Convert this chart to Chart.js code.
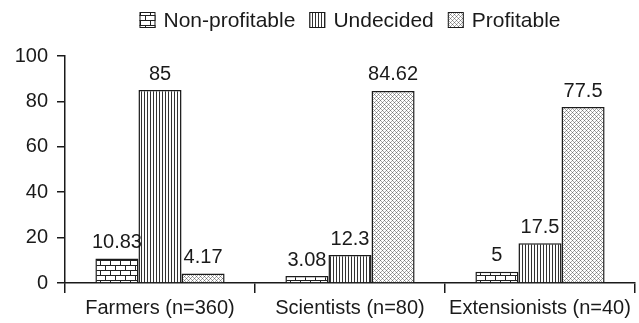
<!DOCTYPE html>
<html>
<head>
<meta charset="utf-8">
<script src="https://cdn.jsdelivr.net/npm/chart.js@4/dist/chart.umd.min.js"></script>
<style>
  html, body { margin: 0; padding: 0; background: #fff; }
  #wrap { width: 639px; height: 323px; }
</style>
</head>
<body>
<div id="wrap"><canvas id="chart" width="639" height="323"></canvas></div>
<script>
// ---- data ----
const categories = ['Farmers (n=360)', 'Scientists (n=80)', 'Extensionists (n=40)'];
const seriesNames = ['Non-profitable', 'Undecided', 'Profitable'];
const nonProfitable = [10.83, 3.08, 5];
const undecided = [85, 12.3, 17.5];
const profitable = [4.17, 84.62, 77.5];
const yTicks = [0, 20, 40, 60, 80, 100];

const FONT = '"Liberation Sans", Arial, sans-serif';
const INK = '#1a1a1a';

// ---- fill patterns ----
function makePattern(w, h, draw) {
    const c = document.createElement('canvas');
    c.width = w; c.height = h;
    const g = c.getContext('2d');
    g.fillStyle = '#fff';
    g.fillRect(0, 0, w, h);
    draw(g);
    return g.createPattern(c, 'repeat');
}

// bricks
const brickPattern = makePattern(10, 10, g => {
    g.fillStyle = '#222';
    g.fillRect(0, 0, 10, 1);
    g.fillRect(0, 5, 10, 1);
    g.fillRect(0, 0, 1, 5);
    g.fillRect(5, 5, 1, 5);
});

// vertical lines
const linePattern = makePattern(3, 3, g => {
    g.fillStyle = '#333';
    g.fillRect(0, 0, 1, 3);
});

// fine crosshatch
const hatchPattern = makePattern(4, 4, g => {
    g.fillStyle = '#777';
    g.fillRect(0, 0, 1, 1);
    g.fillRect(2, 2, 1, 1);
    g.fillStyle = '#aaa';
    g.fillRect(1, 1, 1, 1);
    g.fillRect(3, 3, 1, 1);
    g.fillRect(1, 3, 1, 1);
    g.fillRect(3, 1, 1, 1);
});

const patterns = [brickPattern, linePattern, hatchPattern];

// ---- value labels above the bars ----
const valueLabelPlugin = {
    id: 'valueLabels',
    afterDatasetsDraw(chart) {
        const ctx = chart.ctx;
        ctx.save();
        ctx.font = '20px ' + FONT;
        ctx.fillStyle = INK;
        ctx.textAlign = 'center';
        ctx.textBaseline = 'bottom';
        chart.data.datasets.forEach((ds, i) => {
            chart.getDatasetMeta(i).data.forEach((bar, j) => {
                ctx.fillText(String(ds.data[j]), bar.x, bar.y - 6);
            });
        });
        ctx.restore();
    }
};

// ---- legend (centred over the plot area) ----
const legendPlugin = {
    id: 'patternLegend',
    afterDraw(chart) {
        const ctx = chart.ctx;
        const area = chart.chartArea;
        ctx.save();
        ctx.font = '21px ' + FONT;
        const box = 16, gapText = 8, gapItem = 14;
        const widths = seriesNames.map(n => ctx.measureText(n).width);
        let total = 0;
        widths.forEach((w, i) => { total += box + gapText + w + (i ? gapItem : 0); });
        let x = (area.left + area.right) / 2 - total / 2;
        const y = 20;
        seriesNames.forEach((name, i) => {
            ctx.fillStyle = patterns[i];
            ctx.fillRect(x, y - 8, box, box);
            ctx.strokeStyle = INK;
            ctx.lineWidth = 1;
            ctx.strokeRect(x + 0.5, y - 7.5, box - 1, box - 1);
            ctx.fillStyle = INK;
            ctx.textBaseline = 'middle';
            ctx.fillText(name, x + box + gapText, y + 1);
            x += box + gapText + widths[i] + gapItem;
        });
        ctx.restore();
    }
};

new Chart(document.getElementById('chart'), {
    type: 'bar',
    data: {
        labels: categories,
        datasets: [nonProfitable, undecided, profitable].map((d, i) => ({
            label: seriesNames[i],
            data: d,
            backgroundColor: patterns[i],
            borderColor: INK,
            borderWidth: 1.5,
            borderSkipped: 'bottom',
            barPercentage: 1.0,
            categoryPercentage: 0.68
        }))
    },
    options: {
        responsive: false,
        animation: false,
        layout: { padding: { top: 56, right: 4, left: 0, bottom: 0 } },
        plugins: {
            legend: { display: false },
            tooltip: { enabled: false }
        },
        scales: {
            x: {
                grid: {
                    offset: true,
                    drawOnChartArea: false,
                    drawTicks: true,
                    tickLength: 10,
                    color: INK,
                    lineWidth: 1.5
                },
                border: { color: INK, width: 1.5 },
                ticks: { color: INK, font: { family: FONT, size: 20 }, padding: 3 },
                afterFit: s => { s.height = 40; }
            },
            y: {
                min: 0,
                max: 100,
                afterBuildTicks: s => { s.ticks = yTicks.map(v => ({ value: v })); },
                grid: {
                    drawOnChartArea: false,
                    drawTicks: true,
                    tickLength: 8,
                    color: INK,
                    lineWidth: 1.5
                },
                border: { color: INK, width: 1.5 },
                ticks: { color: INK, font: { family: FONT, size: 20 }, padding: 9 },
                afterFit: s => { s.width = 65; }
            }
        }
    },
    plugins: [valueLabelPlugin, legendPlugin]
});
</script>
</body>
</html>
